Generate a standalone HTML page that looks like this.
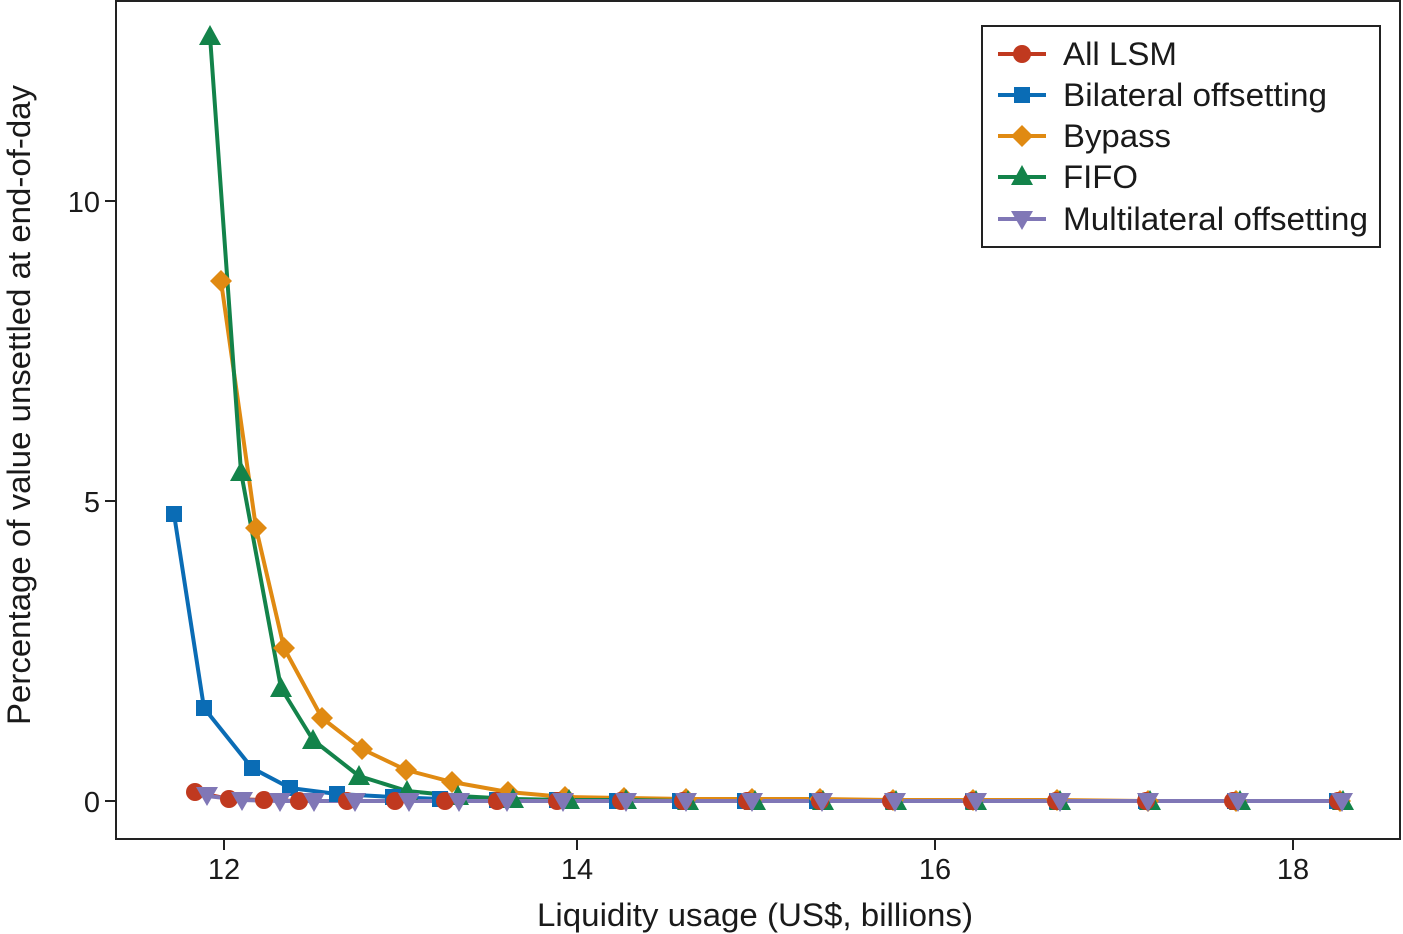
<!DOCTYPE html>
<html><head><meta charset="utf-8"><style>body{margin:0;background:#fff}svg{display:block}text{font-family:"Liberation Sans",sans-serif;fill:#1a1a1a}</style></head><body>
<svg width="1403" height="934" viewBox="0 0 1403 934">
<defs>
<circle id="c" r="9" fill="#c0391f"/>
<rect id="s" x="-8" y="-8" width="16" height="16" fill="#0a6cb5"/>
<polygon id="d" points="0,-11 11,0 0,11 -11,0" fill="#e08a12"/>
<polygon id="t" points="0,-11 11,9 -11,9" fill="#13834a"/>
<polygon id="v" points="0,10 11,-9 -11,-9" fill="#8077b6"/>
</defs>
<rect x="116" y="1" width="1284" height="838" fill="none" stroke="#222" stroke-width="2"/>
<g stroke="#222" stroke-width="2">
<line x1="224" y1="839" x2="224" y2="850"/><line x1="577" y1="839" x2="577" y2="850"/><line x1="935" y1="839" x2="935" y2="850"/><line x1="1293" y1="839" x2="1293" y2="850"/>
<line x1="116" y1="801" x2="105" y2="801"/><line x1="116" y1="501" x2="105" y2="501"/><line x1="116" y1="201" x2="105" y2="201"/>
</g>
<g font-size="29" text-anchor="middle">
<text x="224" y="879">12</text><text x="577" y="879">14</text><text x="935" y="879">16</text><text x="1293" y="879">18</text>
</g>
<g font-size="29" text-anchor="end">
<text x="100" y="812">0</text><text x="100" y="512">5</text><text x="100" y="212">10</text>
</g>
<text x="755" y="926" font-size="32" text-anchor="middle" textLength="436" lengthAdjust="spacingAndGlyphs">Liquidity usage (US$, billions)</text>
<text transform="translate(30,405) rotate(-90)" font-size="32" text-anchor="middle" textLength="640" lengthAdjust="spacingAndGlyphs">Percentage of value unsettled at end-of-day</text>
<g fill="none" stroke-width="4" stroke-linejoin="round">
<polyline stroke="#0a6cb5" points="174,514 204,708 252,768 290,788 337,794 393,797 440,799 497,800 557,800 617,801 680,801 745,801 817,801 893,801 973,801 1057,801 1146,801 1235,801 1337,801"/>
<polyline stroke="#e08a12" points="221,281 256,528 284,648 322,718 362,749 406,770 452,782 508,792 565,797 624,798 686,799 752,799 820,799 893,800 973,800 1057,800 1148,801 1236,801 1340,801"/>
<polyline stroke="#13834a" points="210,36 241,472 281,688 313,740 359,776 407,791 458,796 513,799 569,800 626,800 688,801 755,801 823,801 896,801 976,801 1060,801 1150,801 1240,801 1343,801"/>
<polyline stroke="#c0391f" points="195,792 229,799 264,800 299,801 347,801 395,801 445,801 497,801 557,801 621,801 683,801 747,801 820,801 891,801 972,801 1056,801 1146,801 1233,801 1338,801"/>
<polyline stroke="#8077b6" points="207,796 242,800 280,801 314,801 355,801 409,801 459,801 507,801 563,801 626,801 686,801 752,801 822,801 895,801 976,801 1060,801 1148,801 1238,801 1342,801"/>
</g>
<g>
<use href="#s" x="174" y="514"/><use href="#s" x="204" y="708"/><use href="#s" x="252" y="768"/><use href="#s" x="290" y="788"/><use href="#s" x="337" y="794"/><use href="#s" x="393" y="797"/><use href="#s" x="440" y="799"/><use href="#s" x="497" y="800"/><use href="#s" x="557" y="800"/><use href="#s" x="617" y="801"/><use href="#s" x="680" y="801"/><use href="#s" x="745" y="801"/><use href="#s" x="817" y="801"/><use href="#s" x="893" y="801"/><use href="#s" x="973" y="801"/><use href="#s" x="1057" y="801"/><use href="#s" x="1146" y="801"/><use href="#s" x="1235" y="801"/><use href="#s" x="1337" y="801"/>
<use href="#d" x="221" y="281"/><use href="#d" x="256" y="528"/><use href="#d" x="284" y="648"/><use href="#d" x="322" y="718"/><use href="#d" x="362" y="749"/><use href="#d" x="406" y="770"/><use href="#d" x="452" y="782"/><use href="#d" x="508" y="792"/><use href="#d" x="565" y="797"/><use href="#d" x="624" y="798"/><use href="#d" x="686" y="799"/><use href="#d" x="752" y="799"/><use href="#d" x="820" y="799"/><use href="#d" x="893" y="800"/><use href="#d" x="973" y="800"/><use href="#d" x="1057" y="800"/><use href="#d" x="1148" y="801"/><use href="#d" x="1236" y="801"/><use href="#d" x="1340" y="801"/>
<use href="#t" x="210" y="36"/><use href="#t" x="241" y="472"/><use href="#t" x="281" y="688"/><use href="#t" x="313" y="740"/><use href="#t" x="359" y="776"/><use href="#t" x="407" y="791"/><use href="#t" x="458" y="796"/><use href="#t" x="513" y="799"/><use href="#t" x="569" y="800"/><use href="#t" x="626" y="800"/><use href="#t" x="688" y="801"/><use href="#t" x="755" y="801"/><use href="#t" x="823" y="801"/><use href="#t" x="896" y="801"/><use href="#t" x="976" y="801"/><use href="#t" x="1060" y="801"/><use href="#t" x="1150" y="801"/><use href="#t" x="1240" y="801"/><use href="#t" x="1343" y="801"/>
<use href="#c" x="195" y="792"/><use href="#c" x="229" y="799"/><use href="#c" x="264" y="800"/><use href="#c" x="299" y="801"/><use href="#c" x="347" y="801"/><use href="#c" x="395" y="801"/><use href="#c" x="445" y="801"/><use href="#c" x="497" y="801"/><use href="#c" x="557" y="801"/><use href="#c" x="621" y="801"/><use href="#c" x="683" y="801"/><use href="#c" x="747" y="801"/><use href="#c" x="820" y="801"/><use href="#c" x="891" y="801"/><use href="#c" x="972" y="801"/><use href="#c" x="1056" y="801"/><use href="#c" x="1146" y="801"/><use href="#c" x="1233" y="801"/><use href="#c" x="1338" y="801"/>
<use href="#v" x="207" y="796"/><use href="#v" x="242" y="801"/><use href="#v" x="280" y="802"/><use href="#v" x="314" y="802"/><use href="#v" x="355" y="802"/><use href="#v" x="409" y="802"/><use href="#v" x="459" y="802"/><use href="#v" x="507" y="802"/><use href="#v" x="563" y="802"/><use href="#v" x="626" y="802"/><use href="#v" x="686" y="802"/><use href="#v" x="752" y="802"/><use href="#v" x="822" y="802"/><use href="#v" x="895" y="802"/><use href="#v" x="976" y="802"/><use href="#v" x="1060" y="802"/><use href="#v" x="1148" y="802"/><use href="#v" x="1238" y="802"/><use href="#v" x="1342" y="802"/>
</g>
<rect x="982" y="26" width="398" height="221" fill="#fff" stroke="#222" stroke-width="2"/>
<g stroke-width="4">
<line x1="998" y1="54" x2="1046" y2="54" stroke="#c0391f"/><use href="#c" x="1022" y="54"/>
<line x1="998" y1="95" x2="1046" y2="95" stroke="#0a6cb5"/><use href="#s" x="1022" y="95"/>
<line x1="998" y1="136" x2="1046" y2="136" stroke="#e08a12"/><use href="#d" x="1022" y="136"/>
<line x1="998" y1="177" x2="1046" y2="177" stroke="#13834a"/><use href="#t" x="1022" y="176"/>
<line x1="998" y1="219" x2="1046" y2="219" stroke="#8077b6"/><use href="#v" x="1022" y="220"/>
</g>
<g font-size="32">
<text x="1063" y="65" textLength="114" lengthAdjust="spacingAndGlyphs">All LSM</text><text x="1063" y="106" textLength="264" lengthAdjust="spacingAndGlyphs">Bilateral offsetting</text><text x="1063" y="147" textLength="108" lengthAdjust="spacingAndGlyphs">Bypass</text><text x="1063" y="188" textLength="75" lengthAdjust="spacingAndGlyphs">FIFO</text><text x="1063" y="230" textLength="305" lengthAdjust="spacingAndGlyphs">Multilateral offsetting</text>
</g>
</svg></body></html>
